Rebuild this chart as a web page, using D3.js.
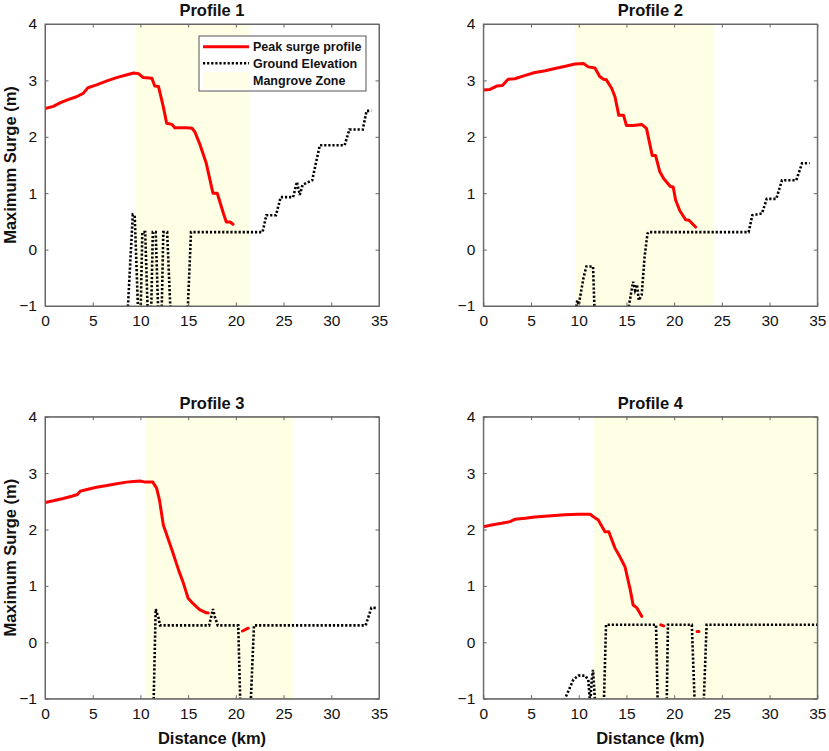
<!DOCTYPE html>
<html>
<head>
<meta charset="utf-8">
<script src="https://cdn.jsdelivr.net/npm/d3@7"></script>
<style>
  body { margin: 0; background: #fff; }
  text { font-family: "Liberation Sans", Arial, sans-serif; fill: #111; }
</style>
</head>
<body>
<script>
// ================= DATA =================
const xTicks = [0, 5, 10, 15, 20, 25, 30, 35]
const yTicks = [-1, 0, 1, 2, 3, 4]
const titles = ['Profile 1', 'Profile 2', 'Profile 3', 'Profile 4']
const mangroveZones = [[9.5, 21.4], [9.6, 24.2], [10.5, 26.0], [11.6, 35]]

// Profile 1
const p1SurgeX = [0, 0.87, 1.57, 2.27, 3.3, 4.0, 4.5, 5.4, 6.5, 7.5, 8.6, 9.3, 9.8, 10.3, 11.2, 11.5, 11.9, 12.4, 12.75, 13.3, 13.6, 14.8, 15.4, 15.7, 16.2, 16.9, 17.6, 18.05, 18.7, 19.0, 19.4, 19.7]
const p1Surge = [2.50, 2.54, 2.60, 2.65, 2.71, 2.77, 2.87, 2.92, 2.99, 3.05, 3.10, 3.13, 3.12, 3.05, 3.04, 2.90, 2.89, 2.53, 2.24, 2.22, 2.16, 2.16, 2.15, 2.09, 1.88, 1.53, 1.00, 1.00, 0.64, 0.49, 0.49, 0.45]
const p1GroundX = [8.6, 9.2, 9.4, 9.8, 10.0, 10.2, 10.5, 10.8, 11.1, 11.3, 11.6, 11.9, 12.2, 12.4, 12.8, 13.2, 14.9, 15.3, 22.8, 23.2, 24.2, 24.7, 26.0, 26.4, 26.7, 27.0, 28.0, 28.8, 31.4, 31.9, 33.3, 33.7, 34.2]
const p1Ground = [-1.3, 0.62, 0.60, -1.3, -1.3, 0.31, 0.31, -1.3, -1.3, 0.31, 0.31, -1.3, -1.3, 0.31, 0.31, -1.3, -1.3, 0.31, 0.31, 0.61, 0.61, 0.93, 0.93, 1.20, 0.97, 1.15, 1.23, 1.85, 1.85, 2.13, 2.13, 2.46, 2.46]

// Profile 2
const p2SurgeX = [0, 0.7, 1.4, 2.0, 2.6, 3.3, 4.4, 5.4, 6.5, 7.5, 8.6, 9.6, 10.5, 11.0, 11.7, 12.2, 12.6, 12.9, 13.45, 13.8, 14.2, 14.7, 15.0, 15.7, 16.6, 17.1, 17.7, 18.05, 18.5, 18.9, 19.6, 19.9, 20.15, 20.6, 21.2, 21.55, 22.25]
const p2Surge = [2.83, 2.84, 2.90, 2.91, 3.02, 3.03, 3.09, 3.14, 3.17, 3.21, 3.25, 3.29, 3.30, 3.24, 3.22, 3.07, 3.02, 3.01, 2.86, 2.71, 2.38, 2.38, 2.20, 2.20, 2.22, 2.15, 1.67, 1.67, 1.38, 1.26, 1.12, 1.11, 0.88, 0.69, 0.53, 0.52, 0.40]
const p2GroundX = [9.5, 9.85, 10.0, 10.5, 10.8, 11.5, 11.7, 15.2, 15.7, 15.9, 16.1, 16.3, 16.6, 16.9, 17.2, 17.3, 27.8, 28.2, 29.2, 29.7, 30.7, 31.3, 32.8, 33.4, 34.2]
const p2Ground = [-1.3, -0.90, -0.98, -0.50, -0.30, -0.30, -1.3, -1.05, -0.57, -0.72, -0.62, -0.90, -0.80, -0.13, 0.28, 0.31, 0.31, 0.61, 0.64, 0.90, 0.90, 1.23, 1.23, 1.53, 1.53]

// Profile 3
const p3SurgeX = [0, 0.87, 1.9, 2.8, 3.4, 3.7, 4.4, 5.4, 6.5, 7.5, 8.55, 9.25, 9.95, 10.5, 11.3, 11.7, 12.0, 12.4, 13.3, 14.0, 14.5, 15.0, 15.55, 16.2, 16.8, 17.1, 18.0, 20.7, 21.3]
const p3Surge = [2.48, 2.51, 2.55, 2.59, 2.62, 2.68, 2.71, 2.75, 2.78, 2.81, 2.84, 2.85, 2.86, 2.84, 2.84, 2.73, 2.52, 2.08, 1.64, 1.28, 1.05, 0.78, 0.68, 0.58, 0.53, 0.52, null, 0.20, 0.25]
const p3GroundX = [11.35, 11.6, 11.9, 12.05, 17.2, 17.6, 17.8, 18.1, 20.25, 20.5, 21.5, 21.9, 33.6, 34.2, 34.75]
const p3Ground = [-1.3, 0.59, 0.43, 0.30, 0.30, 0.59, 0.45, 0.30, 0.30, -1.3, -1.3, 0.30, 0.30, 0.61, 0.61]

// Profile 4
const p4SurgeX = [0, 0.87, 1.9, 2.8, 3.3, 4.4, 5.4, 6.8, 8.55, 9.95, 11.2, 11.5, 12.05, 12.75, 13.15, 13.8, 14.3, 14.85, 15.4, 15.7, 16.1, 16.6, 17.5, 18.6, 18.9, 20.0, 22.4, 22.6]
const p4Surge = [2.05, 2.08, 2.11, 2.14, 2.18, 2.20, 2.22, 2.24, 2.26, 2.27, 2.27, 2.23, 2.17, 1.96, 1.96, 1.67, 1.52, 1.34, 0.93, 0.66, 0.61, 0.46, null, 0.31, 0.29, null, 0.19, 0.19]
const p4GroundX = [8.45, 8.56, 9.44, 9.97, 10.66, 11.0, 11.2, 11.36, 11.5, 11.8, 12.6, 12.86, 18.1, 18.3, 19.2, 19.35, 21.85, 22.2, 23.05, 23.4, 35]
const p4Ground = [-1.1, -1.0, -0.66, -0.59, -0.59, -0.66, -1.1, -0.66, -0.49, -1.3, -1.3, 0.31, 0.31, -1.3, -1.3, 0.31, 0.31, -1.3, -1.3, 0.31, 0.31]

// ================= LAYOUT =================
const W = 829, H = 751
const plotW = 334, plotH = 282
const origins = [[45, 24], [483.3, 24], [45, 416.7], [483.3, 416.7]]
const mangroveColor = '#ffffe6'

const panels = [
    { sx: p1SurgeX, s: p1Surge, gx: p1GroundX, g: p1Ground },
    { sx: p2SurgeX, s: p2Surge, gx: p2GroundX, g: p2Ground },
    { sx: p3SurgeX, s: p3Surge, gx: p3GroundX, g: p3Ground },
    { sx: p4SurgeX, s: p4Surge, gx: p4GroundX, g: p4Ground }
]

const svg = d3.select('body').append('svg')
    .attr('width', W)
    .attr('height', H)

const x = d3.scaleLinear().domain([0, 35]).range([0, plotW])
const y = d3.scaleLinear().domain([-1, 4]).range([plotH, 0])

const line = d3.line()
    .defined(d => d[1] !== null)
    .x(d => x(d[0]))
    .y(d => y(d[1]))

svg.append('defs').append('clipPath')
    .attr('id', 'plotClip')
    .append('rect')
    .attr('width', plotW)
    .attr('height', plotH)

panels.forEach((p, i) => {
    const g = svg.append('g')
        .attr('transform', 'translate(' + origins[i][0] + ',' + origins[i][1] + ')')

    // mangrove zone
    g.append('rect')
        .attr('x', x(mangroveZones[i][0]))
        .attr('y', 0)
        .attr('width', x(mangroveZones[i][1]) - x(mangroveZones[i][0]))
        .attr('height', plotH)
        .attr('fill', mangroveColor)

    const inner = g.append('g').attr('clip-path', 'url(#plotClip)')

    inner.append('path')
        .datum(p.gx.map((d, j) => [d, p.g[j]]))
        .attr('d', line)
        .attr('fill', 'none')
        .attr('stroke', '#000')
        .attr('stroke-width', 2.6)
        .attr('stroke-dasharray', '2.2,1.9')

    inner.append('path')
        .datum(p.sx.map((d, j) => [d, p.s[j]]))
        .attr('d', line)
        .attr('fill', 'none')
        .attr('stroke', '#ff0000')
        .attr('stroke-width', 3)
        .attr('stroke-linejoin', 'round')
        .attr('stroke-linecap', 'round')

    // axes with inward ticks on all sides
    const tickLen = 3.5
    g.append('g')
        .attr('transform', 'translate(0,' + plotH + ')')
        .call(d3.axisBottom(x).tickValues(xTicks).tickSizeInner(-tickLen).tickSizeOuter(0).tickPadding(9).tickFormat(d3.format('d')))
    g.append('g')
        .call(d3.axisTop(x).tickValues(xTicks).tickSizeInner(-tickLen).tickSizeOuter(0).tickFormat(''))
    g.append('g')
        .call(d3.axisLeft(y).tickValues(yTicks).tickSizeInner(-tickLen).tickSizeOuter(0).tickPadding(8).tickFormat(d3.format('d')))
    g.append('g')
        .attr('transform', 'translate(' + plotW + ',0)')
        .call(d3.axisRight(y).tickValues(yTicks).tickSizeInner(-tickLen).tickSizeOuter(0).tickFormat(''))

    g.selectAll('.domain, .tick line').attr('stroke', '#666')
    g.selectAll('.tick text')
        .attr('font-size', '15.5px')
        .attr('fill', '#111')
        .style('font-family', '"Liberation Sans", Arial, sans-serif')

    g.append('rect')
        .attr('width', plotW)
        .attr('height', plotH)
        .attr('fill', 'none')
        .attr('stroke', '#666')
        .attr('stroke-width', 1)

    g.append('text')
        .attr('x', plotW / 2)
        .attr('y', -8)
        .attr('text-anchor', 'middle')
        .attr('font-size', '16.5px')
        .attr('font-weight', 'bold')
        .text(titles[i])

    if (i % 2 === 0) {
        g.append('text')
            .attr('transform', 'translate(-29,' + (plotH / 2) + ') rotate(-90)')
            .attr('text-anchor', 'middle')
            .attr('font-size', '16.5px')
            .attr('font-weight', 'bold')
            .text('Maximum Surge (m)')
    }
    if (i >= 2) {
        g.append('text')
            .attr('x', plotW / 2)
            .attr('y', plotH + 45)
            .attr('text-anchor', 'middle')
            .attr('font-size', '16.5px')
            .attr('font-weight', 'bold')
            .text('Distance (km)')
    }

    if (i === 0) makeLegend(g)
})

function makeLegend(g) {
    const legend = g.append('g')
        .attr('transform', 'translate(154,12)')

    legend.append('rect')
        .attr('width', 167)
        .attr('height', 55)
        .attr('fill', '#fff')
        .attr('stroke', '#555')
        .attr('stroke-width', 1)

    legend.append('line')
        .attr('x1', 4).attr('x2', 50)
        .attr('y1', 10.7).attr('y2', 10.7)
        .attr('stroke', '#ff0000')
        .attr('stroke-width', 3)

    legend.append('line')
        .attr('x1', 4).attr('x2', 50)
        .attr('y1', 27.3).attr('y2', 27.3)
        .attr('stroke', '#000')
        .attr('stroke-width', 2.6)
        .attr('stroke-dasharray', '2.2,1.9')

    legend.append('rect')
        .attr('x', 4).attr('y', 36)
        .attr('width', 46).attr('height', 17)
        .attr('fill', mangroveColor)

    const labels = ['Peak surge profile', 'Ground Elevation', 'Mangrove Zone']
    legend.selectAll('text.lbl')
        .data(labels)
        .enter()
        .append('text')
        .attr('class', 'lbl')
        .attr('x', 54)
        .attr('y', (d, k) => 15 + k * 17)
        .attr('font-size', '12.5px')
        .attr('font-weight', 'bold')
        .text(d => d)
}
</script>
</body>
</html>
